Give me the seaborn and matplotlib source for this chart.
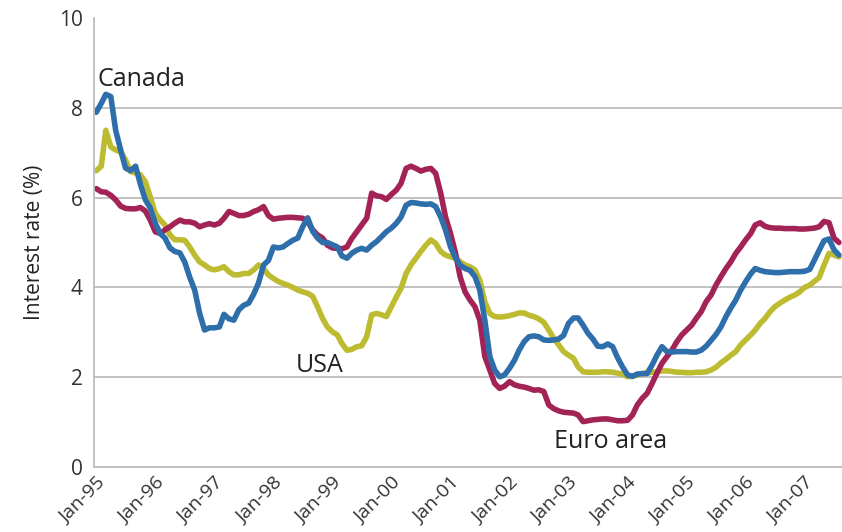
import pandas as pd
import seaborn as sns
import matplotlib.pyplot as plt
import matplotlib.dates as mdates

# monthly rates, Jan-95 .. Aug-07
canada = [7.9, 8.1, 8.3, 8.25, 7.5, 7.06, 6.66, 6.6, 6.7, 6.3, 5.95, 5.77, 5.43, 5.2, 5.1, 4.88, 4.8, 4.77, 4.57, 4.23,
          3.94, 3.43, 3.05, 3.1, 3.1, 3.12, 3.4, 3.3, 3.27, 3.5, 3.6, 3.65, 3.85, 4.1, 4.5, 4.6, 4.9, 4.88, 4.9, 4.98,
          5.05, 5.1, 5.35, 5.55, 5.25, 5.1, 5.0, 5.0, 4.95, 4.9, 4.7, 4.65, 4.76, 4.83, 4.87, 4.83, 4.94, 5.02, 5.13, 5.24,
          5.32, 5.43, 5.57, 5.83, 5.89, 5.88, 5.86, 5.85, 5.86, 5.8, 5.57, 5.28, 4.9, 4.65, 4.5, 4.42, 4.38, 4.24, 3.94, 3.27,
          2.46, 2.16, 2.01, 2.05, 2.2, 2.38, 2.6, 2.79, 2.9, 2.92, 2.9, 2.83, 2.82, 2.83, 2.85, 2.93, 3.2, 3.32, 3.32, 3.16,
          2.98, 2.85, 2.69, 2.68, 2.74, 2.68, 2.43, 2.23, 2.05, 2.02, 2.07, 2.08, 2.08, 2.27, 2.49, 2.68, 2.57, 2.56, 2.57, 2.57,
          2.57, 2.56, 2.56, 2.6, 2.69, 2.82, 2.95, 3.12, 3.35, 3.54, 3.72, 3.94, 4.13, 4.3, 4.42, 4.38, 4.35, 4.34, 4.33, 4.33,
          4.34, 4.35, 4.35, 4.35, 4.36, 4.4, 4.6, 4.83, 5.04, 5.08, 4.84, 4.72]
usa = [6.6, 6.7, 7.5, 7.13, 7.06, 7.02, 6.84, 6.58, 6.55, 6.51, 6.35, 6.02, 5.65, 5.5, 5.39, 5.17, 5.06, 5.06, 5.05, 4.9,
       4.72, 4.57, 4.5, 4.42, 4.39, 4.42, 4.46, 4.35, 4.28, 4.28, 4.31, 4.31, 4.39, 4.5, 4.42, 4.28, 4.2, 4.13, 4.09, 4.05,
       4.0, 3.94, 3.9, 3.87, 3.8, 3.57, 3.31, 3.12, 3.01, 2.94, 2.75, 2.6, 2.62, 2.68, 2.7, 2.9, 3.39, 3.42, 3.39, 3.35,
       3.57, 3.79, 3.98, 4.31, 4.5, 4.65, 4.8, 4.94, 5.06, 4.98, 4.8, 4.72, 4.68, 4.65, 4.57, 4.5, 4.46, 4.39, 4.16, 3.68,
       3.42, 3.35, 3.34, 3.35, 3.37, 3.4, 3.43, 3.43, 3.38, 3.35, 3.3, 3.22, 3.05, 2.87, 2.72, 2.57, 2.49, 2.42, 2.23, 2.12,
       2.11, 2.11, 2.11, 2.12, 2.12, 2.11, 2.09, 2.07, 2.01, 2.02, 2.05, 2.08, 2.1, 2.11, 2.12, 2.14, 2.14, 2.13, 2.11, 2.11,
       2.1, 2.1, 2.11, 2.11, 2.12, 2.16, 2.22, 2.32, 2.4, 2.49, 2.57, 2.72, 2.83, 2.94, 3.05, 3.2, 3.31, 3.46, 3.57, 3.65,
       3.72, 3.78, 3.83, 3.9, 4.0, 4.05, 4.13, 4.22, 4.5, 4.76, 4.72, 4.68]
euro = [6.2, 6.13, 6.12, 6.05, 5.95, 5.81, 5.76, 5.75, 5.75, 5.78, 5.7, 5.5, 5.24, 5.2, 5.28, 5.35, 5.43, 5.5, 5.46, 5.46,
        5.43, 5.35, 5.39, 5.42, 5.39, 5.43, 5.54, 5.69, 5.65, 5.6, 5.6, 5.63, 5.69, 5.73, 5.8, 5.6, 5.52, 5.54, 5.55, 5.56,
        5.56, 5.55, 5.54, 5.47, 5.28, 5.17, 5.1, 4.94, 4.88, 4.87, 4.86, 4.9, 5.09, 5.24, 5.39, 5.54, 6.1, 6.04, 6.02, 5.96,
        6.07, 6.17, 6.32, 6.65, 6.7, 6.65, 6.59, 6.63, 6.65, 6.54, 6.1, 5.57, 5.2, 4.76, 4.24, 3.9, 3.72, 3.57, 3.27, 2.46,
        2.16, 1.86, 1.75, 1.8, 1.9, 1.83, 1.8, 1.78, 1.75, 1.71, 1.72, 1.68, 1.38, 1.3, 1.25, 1.22, 1.21, 1.2, 1.16, 1.01,
        1.03, 1.05, 1.06, 1.07, 1.07, 1.05, 1.03, 1.03, 1.04, 1.16, 1.38, 1.53, 1.64, 1.86, 2.09, 2.31, 2.46, 2.6, 2.79, 2.94,
        3.05, 3.16, 3.31, 3.46, 3.68, 3.83, 4.05, 4.24, 4.42, 4.57, 4.76, 4.9, 5.06, 5.2, 5.39, 5.44, 5.36, 5.33, 5.32, 5.32,
        5.31, 5.31, 5.31, 5.3, 5.3, 5.31, 5.32, 5.35, 5.47, 5.44, 5.1, 5.0]

months = pd.date_range('1995-01-01', periods=len(canada), freq='MS')

df = pd.DataFrame({'date': months, 'Canada': canada, 'USA': usa, 'Euro area': euro})
df = df.melt(id_vars='date', var_name='region', value_name='rate')

colors = {'Canada': '#2E6EAA', 'USA': '#BDBB30', 'Euro area': '#A32356'}
hue_order = ['USA', 'Euro area', 'Canada']

sns.set_style('white')
plt.rcParams['font.family'] = ['Open Sans', 'DejaVu Sans']

fig = plt.figure(figsize=(8.42, 5.32), dpi=100)
ax = fig.add_axes([94 / 842, 65 / 532, 748 / 842, 449 / 532])

sns.lineplot(data=df, x='date', y='rate', hue='region', hue_order=hue_order,
             palette=colors, linewidth=4, legend=False, ax=ax)

ax.set_ylim(0, 10)
ax.set_yticks([0, 2, 4, 6, 8, 10])
ax.set_xlim(pd.Timestamp('1994-12-18'), pd.Timestamp('2007-08-20'))
ax.xaxis.set_major_locator(mdates.YearLocator())
ax.xaxis.set_major_formatter(mdates.DateFormatter('%b-%y'))

ax.yaxis.grid(True, color='#BDBDBD', linewidth=1.3)
ax.get_ygridlines()[-1].set_visible(False)
ax.set_axisbelow(True)

for s in ['top', 'right']:
    ax.spines[s].set_visible(False)
for s in ['left', 'bottom']:
    ax.spines[s].set_color('#BDBDBD')
    ax.spines[s].set_linewidth(1.3)

ax.tick_params(axis='y', direction='in', length=6, color='#BDBDBD', labelsize=15, labelcolor='#333333', pad=8)
ax.tick_params(axis='x', length=0, labelsize=14, labelcolor='#333333', pad=5)
plt.setp(ax.get_xticklabels(), rotation=45, ha='right', rotation_mode='anchor')

ax.set_xlabel('')
ax.set_ylabel('Interest rate (%)', fontsize=15, color='#222222', labelpad=10)

# series labels
ax.text(pd.Timestamp('1995-01-10'), 8.62, 'Canada', fontsize=18, color='#222222', va='center', ha='left')
ax.text(pd.Timestamp('1998-10-15'), 2.27, 'USA', fontsize=18, color='#222222', va='center', ha='center')
ax.text(pd.Timestamp('2003-09-15'), 0.56, 'Euro area', fontsize=18, color='#222222', va='center', ha='center')

plt.savefig('out.png', dpi=100)
